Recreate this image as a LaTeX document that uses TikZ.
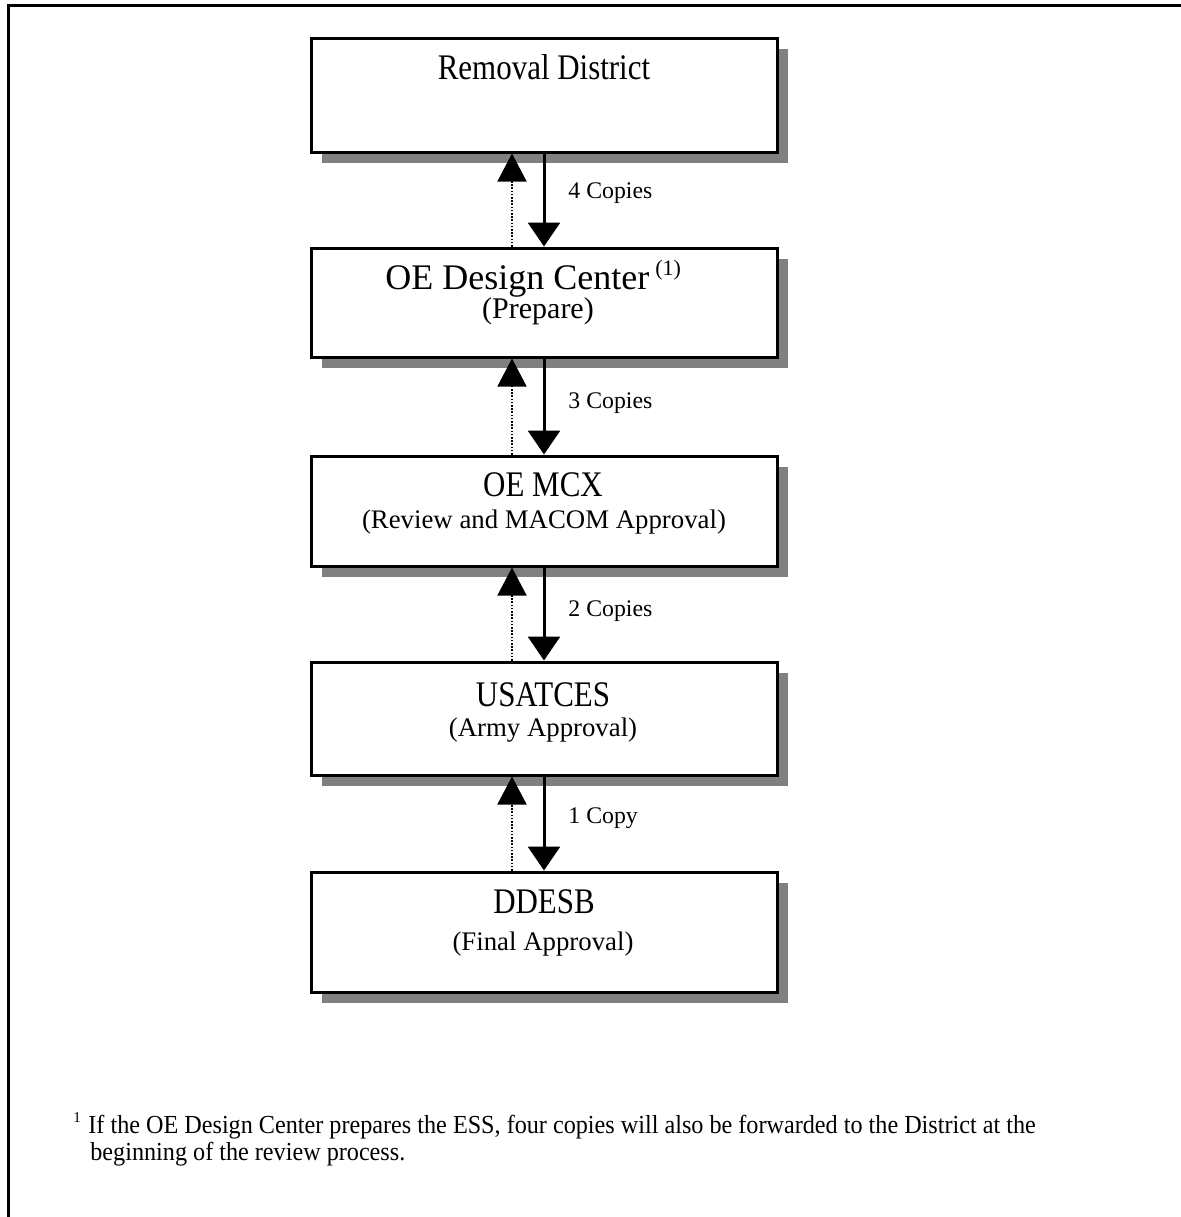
\documentclass[tikz,border=0pt]{standalone}
\usepackage{fontspec}
\setmainfont{Liberation Serif}
\newfontfamily\titlefont[FakeStretch=0.86]{Liberation Serif}
\newfontfamily\notefont[FakeStretch=0.93]{Liberation Serif}
\usetikzlibrary{arrows.meta,shadows,calc}
\definecolor{shadowgray}{RGB}{128,128,128}
\begin{document}
\begin{tikzpicture}[x=0.5pt,y=-0.5pt,
  box/.style={draw, line width=1.5pt, fill=white, minimum width=233pt, inner sep=0pt,
     drop shadow={shadow xshift=5.5pt, shadow yshift=-5.5pt, fill=shadowgray, opacity=1}},
  ttl/.style={anchor=base, inner sep=0pt, font=\titlefont\fontsize{18}{20}\selectfont},
  subt/.style={anchor=base, inner sep=0pt, font=\fontsize{13.4}{15}\selectfont},
  lbl/.style={anchor=base west, inner sep=0pt, font=\fontsize{11.9}{14}\selectfont},
  fnote/.style={anchor=base west, inner sep=0pt, font=\notefont\fontsize{13}{14}\selectfont},
  downarrow/.style={line width=1.5pt, -{Triangle[width=16pt,length=12pt]}},
  uparrow/.style={line width=0.8pt, dash pattern=on 0.8pt off 0.8pt, -{Triangle[width=14.5pt,length=14pt]}},
]
\useasboundingbox (0,0) rectangle (1181,1217);
\draw[line width=1.5pt] (8,1217) -- (8,5) -- (1181,5);

\node[box, minimum height=57pt] (b1) at (544,95) {};
\node[box, minimum height=54.5pt] (b2) at (544,302.5) {};
\node[box, minimum height=55pt] (b3) at (544,511) {};
\node[box, minimum height=56.5pt] (b4) at (544,718.5) {};
\node[box, minimum height=60pt] (b5) at (544,932) {};

\node[ttl] (t1) at (544,79) {Removal District};
\node[anchor=base west, inner sep=0pt, font=\fontsize{18}{20}\selectfont] (t2) at (385,289) {OE Design Center\,\raisebox{7pt}{\fontsize{11}{12}\selectfont(1)}};
\node[anchor=base, inner sep=0pt, font=\fontsize{15}{17}\selectfont] (s2) at (538,318) {(Prepare)};
\node[ttl] (t3) at (543,496) {OE MCX};
\node[subt] (s3) at (544,528) {(Review and MACOM Approval)};
\node[ttl] (t4) at (543,706) {USATCES};
\node[subt] (s4) at (543,736) {(Army Approval)};
\node[ttl] (t5) at (544,913) {DDESB};
\node[subt] (s5) at (543,950) {(Final Approval)};

\draw[downarrow] (b1.south) -- (b2.north);
\draw[downarrow] (b2.south) -- (b3.north);
\draw[downarrow] (b3.south) -- (b4.north);
\draw[downarrow] (b4.south) -- (b5.north);
\draw[uparrow] ($(b2.north)+(-32,0)$) -- ($(b1.south)+(-32,0)$);
\draw[uparrow] ($(b3.north)+(-32,0)$) -- ($(b2.south)+(-32,0)$);
\draw[uparrow] ($(b4.north)+(-32,0)$) -- ($(b3.south)+(-32,0)$);
\draw[uparrow] ($(b5.north)+(-32,0)$) -- ($(b4.south)+(-32,0)$);

\node[lbl] (l1) at (568,198) {4 Copies};
\node[lbl] (l2) at (568,408) {3 Copies};
\node[lbl] (l3) at (568,616) {2 Copies};
\node[lbl] (l4) at (568,823) {1 Copy};

\node[anchor=base west, inner sep=0pt, font=\fontsize{7.5}{8}\selectfont] (fn1) at (73,1122) {1};
\node[fnote] (fn2) at (88,1133) {If the OE Design Center prepares the ESS, four copies will also be forwarded to the District at the};
\node[fnote] (fn3) at (90,1160) {beginning of the review process.};
\end{tikzpicture}
\end{document}
